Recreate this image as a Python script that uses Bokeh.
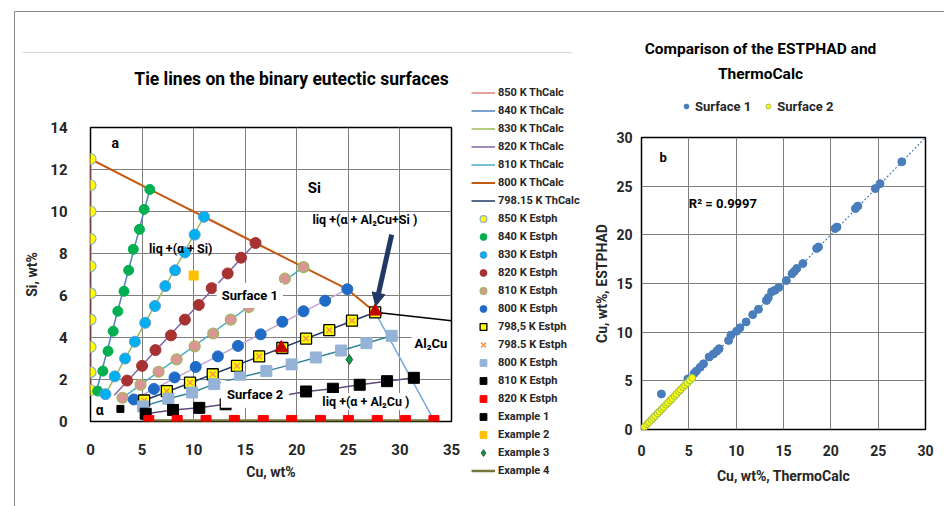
from bokeh.plotting import figure
from bokeh.models import (Range1d, Legend, LegendItem, Label, Arrow, NormalHead,
                          FixedTicker, BoxAnnotation)
from bokeh.embed import file_html
from bokeh.resources import INLINE

FONT = "Roboto"

# ---------------- left chart data (Cu wt%, Si wt%) ----------------
th850_cu = [0, 0]
th850_si = [1.5, 12.5]
th840_cu = [0.5, 5.75]
th840_si = [1.3, 11.05]
th830_cu = [1.45, 11.0]
th830_si = [1.3, 9.75]
th820_cu = [2.3, 16.0]
th820_si = [1.25, 8.5]
th810_cu = [3.1, 20.65]
th810_si = [1.13, 7.35]
th800_cu = [4.1, 24.9]
th800_si = [1.03, 6.3]
th798_cu = [5.2, 27.6]
th798_si = [1.0, 5.2]

valley_si_cu = [0, 5.75, 11.0, 16.0, 20.65, 24.9, 27.6]
valley_si_si = [12.5, 11.05, 9.75, 8.5, 7.35, 6.3, 5.2]
valley_al2cu_cu = [27.6, 33.3]
valley_al2cu_si = [5.2, 0.05]
al2cu_si_cu = [27.6, 35.0]
al2cu_si_si = [5.2, 4.8]

e850_cu = [0, 0, 0, 0, 0, 0, 0, 0, 0, 0]
e850_si = [12.5, 11.25, 10.0, 8.7, 7.4, 6.1, 4.85, 3.55, 2.35, 1.5]
e840_cu = [0.7, 1.2, 1.7, 2.2, 2.65, 3.25, 3.7, 4.15, 4.75, 5.2, 5.75]
e840_si = [1.45, 2.4, 3.35, 4.3, 5.25, 6.2, 7.2, 8.2, 9.15, 10.1, 11.05]
e830_cu = [1.45, 2.35, 3.35, 4.3, 5.3, 6.25, 7.25, 8.2, 9.15, 10.1, 11.0]
e830_si = [1.3, 2.15, 3.0, 3.8, 4.7, 5.5, 6.45, 7.2, 8.05, 8.9, 9.75]
e820_cu = [3.55, 5.0, 6.3, 7.8, 9.15, 10.5, 11.75, 13.3, 14.6, 16.0]
e820_si = [1.95, 2.65, 3.4, 4.1, 4.85, 5.55, 6.35, 7.05, 7.8, 8.5]
e810_cu = [3.1, 4.85, 6.6, 8.35, 10.1, 11.9, 13.6, 15.35, 17.1, 18.85, 20.65]
e810_si = [1.13, 1.75, 2.37, 2.96, 3.58, 4.19, 4.85, 5.45, 6.1, 6.8, 7.35]
e800_cu = [4.2, 6.15, 8.15, 10.2, 12.35, 14.3, 16.5, 18.6, 20.65, 22.75, 24.9]
e800_si = [1.05, 1.55, 2.1, 2.6, 3.1, 3.6, 4.15, 4.75, 5.25, 5.75, 6.3]
e798_cu = [5.2, 7.4, 9.65, 11.85, 14.2, 16.35, 18.6, 20.9, 23.15, 25.35, 27.6]
e798_si = [1.0, 1.45, 1.85, 2.25, 2.65, 3.1, 3.5, 3.95, 4.35, 4.8, 5.2]
s800_cu = [5.1, 7.55, 9.85, 12.0, 14.5, 17.05, 19.5, 21.85, 24.3, 26.75, 29.2]
s800_si = [0.72, 1.08, 1.38, 1.78, 2.1, 2.4, 2.72, 3.05, 3.38, 3.73, 4.08]
s810_cu = [5.35, 8.0, 10.55, 13.1, 15.7, 18.3, 20.9, 23.5, 26.1, 28.75, 31.35]
s810_si = [0.37, 0.55, 0.65, 0.82, 1.0, 1.2, 1.43, 1.56, 1.75, 1.92, 2.08]
s820_cu = [5.65, 8.4, 11.2, 13.95, 16.75, 19.5, 22.3, 25.0, 27.8, 30.55, 33.3]
s820_si = [0.05, 0.05, 0.05, 0.05, 0.05, 0.05, 0.05, 0.05, 0.05, 0.05, 0.05]
tri_cu = [18.5, 27.6]
tri_si = [3.5, 5.25]
ex1_cu, ex1_si = [2.9], [0.6]
ex2_cu, ex2_si = [10.0], [6.95]
ex3_cu, ex3_si = [25.1], [2.95]
ex4_cu, ex4_si = [5.65, 33.3], [0.05, 0.05]

x_ticks_left = [0, 5, 10, 15, 20, 25, 30, 35]
y_ticks_left = [0, 2, 4, 6, 8, 10, 12, 14]

# ---------------- right chart data ----------------
s1_x = [27.5, 25.2, 24.7, 22.85, 22.6, 20.65, 20.45, 18.7, 18.5, 17.05, 16.4, 16.15,
        15.9, 15.3, 14.5, 14.1, 13.75, 13.4, 13.2, 12.35, 11.75, 11.05, 10.4, 10.05,
        9.45, 9.2, 8.2, 7.95, 7.6, 7.15, 6.55, 6.2, 5.8, 5.55, 4.9, 2.1]
s1_y = [27.5, 25.25, 24.75, 22.95, 22.7, 20.8, 20.65, 18.75, 18.6, 17.05, 16.55, 16.25,
        16.0, 15.3, 14.6, 14.3, 14.15, 13.55, 13.25, 12.35, 11.8, 11.05, 10.45, 10.1,
        9.7, 9.15, 8.3, 8.05, 7.75, 7.45, 6.75, 6.4, 6.0, 5.75, 5.2, 3.65]
s2_x = [0.0, 0.15, 0.35, 0.6, 0.8, 1.05, 1.25, 1.45, 1.7, 1.9, 2.15, 2.35, 2.6,
        2.8, 3.05, 3.25, 3.5, 3.7, 3.95, 4.15, 4.4, 4.6, 4.85, 5.1, 5.35]
s2_y = [0.0, 0.1, 0.3, 0.55, 0.75, 1.0, 1.2, 1.4, 1.65, 1.85, 2.1, 2.3, 2.55,
        2.75, 3.0, 3.2, 3.45, 3.65, 3.9, 4.1, 4.35, 4.55, 4.8, 5.05, 5.3]
trend_x = [0.0, 30.0]
trend_y = [0.0, 30.0]
ticks_right = [0, 5, 10, 15, 20, 25, 30]

# ---------------- styles ----------------
ST = {
    "th850": dict(line_color="#d9827f", line_width=1.5),
    "th840": dict(line_color="#4f81bd", line_width=1.5),
    "th830": dict(line_color="#9bbb59", line_width=1.5),
    "th820": dict(line_color="#8064a2", line_width=1.5),
    "th810": dict(line_color="#4bacc6", line_width=1.5),
    "th800": dict(line_color="#c55a11", line_width=2),
    "th798": dict(line_color="#1f3864", line_width=1.5),
    "e850": dict(marker="circle", size=11, fill_color="#ffff00", line_color="#8eaadb",
                 line_width=1.2),
    "e840": dict(marker="circle", size=10, fill_color="#00b050", line_color="#00b050"),
    "e830": dict(marker="circle", size=11, fill_color="#00b0f0", line_color="#5b9bd5"),
    "e820": dict(marker="circle", size=11, fill_color="#a83232", line_color="#a83232"),
    "e810": dict(marker="circle", size=11, fill_color="#d99694", line_color="#9bbb59",
                 line_width=1.2),
    "e800": dict(marker="circle", size=11, fill_color="#1f6bc6", line_color="#1f6bc6"),
    "e798s": dict(marker="square", size=11, fill_color="#ffff00", line_color="#000000",
                  line_width=1.3),
    "e798x": dict(marker="x", size=8, line_color="#f79646", line_width=1.5),
    "s800": dict(marker="square", size=11, fill_color="#95b3d7", line_color="#95b3d7"),
    "s810": dict(marker="square", size=11, fill_color="#000000", line_color="#000000"),
    "s820": dict(marker="square", size=10, fill_color="#ff0000", line_color="#ff0000"),
    "ex1": dict(marker="square", size=7, fill_color="#000000", line_color="#000000"),
    "ex2": dict(marker="square", size=9, fill_color="#ffc000", line_color="#ffc000"),
    "ex3": dict(marker="diamond", size=10, fill_color="#00a050", line_color="#375623"),
    "ex4": dict(line_color="#77773c", line_width=2.5),
    "sf1": dict(marker="circle", size=8, fill_color="#4a7ebb", line_color="#4a7ebb"),
    "sf2": dict(marker="circle", size=7, fill_color="#ffff00", line_color="#9bbb59"),
}


def style_axes(p, xticks, yticks):
    p.xaxis.ticker = FixedTicker(ticks=xticks)
    p.yaxis.ticker = FixedTicker(ticks=yticks)
    p.xgrid.ticker = FixedTicker(ticks=xticks)
    p.ygrid.ticker = FixedTicker(ticks=yticks)
    for ax in (p.xaxis[0], p.yaxis[0]):
        ax.axis_line_color = None
        ax.major_tick_line_color = None
        ax.minor_tick_line_color = None
        ax.major_label_text_font = FONT
        ax.major_label_text_font_style = "bold"
        ax.major_label_text_color = "#262626"
        ax.axis_label_text_font = FONT
        ax.axis_label_text_font_style = "bold"
        ax.axis_label_text_color = "#262626"
    p.grid.grid_line_color = "#7f7f7f"
    p.grid.grid_line_width = 1
    p.outline_line_color = "#000000"
    p.outline_line_width = 1.5
    p.background_fill_color = "white"
    p.border_fill_color = "white"


def lab(p, x, y, text, size="13px", box=False, align="center", pad=5):
    kw = dict(x=x, y=y, text=text, text_font=FONT, text_font_style="bold",
              text_font_size=size, text_color="#000000", text_align=align,
              text_baseline="middle")
    if box:
        kw.update(background_fill_color="white", padding=pad)
    p.add_layout(Label(**kw))


# ================= LEFT CHART =================
pl = figure(width=600, height=506, x_range=Range1d(0, 35), y_range=Range1d(0, 14),
            output_backend="svg", toolbar_location=None,
            min_border_left=90, min_border_right=149, min_border_top=127,
            min_border_bottom=85, x_axis_label="Cu, wt%", y_axis_label="Si, wt%",
            styles={"position": "absolute", "left": "0px", "top": "0px"})
style_axes(pl, x_ticks_left, y_ticks_left)
pl.xaxis.major_label_text_font_size = "15px"
pl.yaxis.major_label_text_font_size = "15px"
pl.xaxis.axis_label_text_font_size = "14px"
pl.yaxis.axis_label_text_font_size = "14px"
pl.xaxis.major_label_standoff = 16
pl.yaxis.major_label_standoff = 17
pl.xaxis.axis_label_standoff = 6
pl.yaxis.axis_label_standoff = 7

pl.line(th850_cu, th850_si, **ST["th850"])
pl.line(th840_cu, th840_si, **ST["th840"])
pl.line(th830_cu, th830_si, **ST["th830"])
pl.line(th820_cu, th820_si, **ST["th820"])
pl.line(th810_cu, th810_si, **ST["th810"])
pl.line(th800_cu, th800_si, line_color="#c3a5d6", line_width=1.5)
pl.line(th798_cu, th798_si, **ST["th798"])
pl.line(s800_cu, s800_si, line_color="#31859c", line_width=1.5)
pl.line(s810_cu, s810_si, line_color="#604a7b", line_width=1.5)
pl.line(ex4_cu, ex4_si, **ST["ex4"])
pl.line(valley_si_cu, valley_si_si, **ST["th800"])
pl.line(valley_al2cu_cu, valley_al2cu_si, line_color="#7aa6dc", line_width=1.5)
pl.line(al2cu_si_cu, al2cu_si_si, line_color="#000000", line_width=1.5)

pl.scatter(e850_cu, e850_si, **ST["e850"])
pl.scatter(e840_cu, e840_si, **ST["e840"])
pl.scatter(e830_cu, e830_si, **ST["e830"])
pl.scatter(e820_cu, e820_si, **ST["e820"])
pl.scatter(e810_cu, e810_si, **ST["e810"])
pl.scatter(e800_cu, e800_si, **ST["e800"])
pl.scatter(e798_cu, e798_si, **ST["e798s"])
pl.scatter(e798_cu, e798_si, **ST["e798x"])
pl.scatter(s800_cu, s800_si, **ST["s800"])
pl.scatter(s810_cu, s810_si, **ST["s810"])
pl.scatter(s820_cu, s820_si, **ST["s820"])
pl.scatter(tri_cu, tri_si, marker="triangle", size=13, fill_color="#c00000",
           line_color="#c00000")
pl.scatter(ex1_cu, ex1_si, **ST["ex1"])
pl.scatter(ex2_cu, ex2_si, **ST["ex2"])
pl.scatter(ex3_cu, ex3_si, **ST["ex3"])

pl.add_layout(Arrow(end=NormalHead(size=13, fill_color="#1f3864", line_color="#1f3864"),
                    x_start=29.2, y_start=8.9, x_end=27.65, y_end=5.5,
                    line_color="#1f3864", line_width=5))

lab(pl, 2.4, 13.25, "a", size="14px")
lab(pl, 21.7, 11.1, "Si", size="15px")
lab(pl, 26.6, 9.6, "liq +(α + Al₂Cu+Si )", size="12.5px")
lab(pl, 8.75, 8.24, "liq +(α + Si)", size="12.5px")
lab(pl, 15.45, 6.0, "Surface 1", box=True)
lab(pl, 15.95, 1.3, "Surface 2", box=True, pad=6)
lab(pl, 33.0, 3.7, "Al₂Cu", box=True, pad=3)
lab(pl, 26.7, 0.95, "liq +(α + Al₂Cu )", size="12.5px", box=True, pad=1)
lab(pl, 0.9, 0.55, "α", size="14px")

# ================= RIGHT CHART =================
pr = figure(width=353, height=506, x_range=Range1d(0, 30), y_range=Range1d(0, 30),
            output_backend="svg", toolbar_location=None,
            min_border_left=50, min_border_right=19, min_border_top=137,
            min_border_bottom=77, x_axis_label="Cu, wt%, ThermoCalc",
            y_axis_label="Cu, wt%, ESTPHAD",
            styles={"position": "absolute", "left": "591px", "top": "0px"})
style_axes(pr, ticks_right, ticks_right)
for ax in (pr.xaxis[0], pr.yaxis[0]):
    ax.major_tick_out = 0
    ax.major_tick_in = 0
    ax.minor_tick_out = 0
    ax.minor_tick_in = 0
pr.xaxis.major_label_text_font_size = "14px"
pr.yaxis.major_label_text_font_size = "14px"
pr.xaxis.axis_label_text_font_size = "14px"
pr.yaxis.axis_label_text_font_size = "14px"
pr.xaxis.major_label_standoff = 15
pr.yaxis.major_label_standoff = 9
pr.xaxis.axis_label_standoff = 9
pr.yaxis.axis_label_standoff = 3

pr.line(trend_x, trend_y, line_color="#4a7ebb", line_width=1.2, line_dash="2 2")
pr.scatter(s1_x, s1_y, **ST["sf1"])
pr.scatter(s2_x, s2_y, **ST["sf2"])
lab(pr, 2.3, 27.9, "b", size="13px")
lab(pr, 5.0, 23.2, "R² = 0.9997", size="13px", align="left")

# ================= OVERLAY: titles and legends (page pixel coordinates) =================
ov = figure(width=944, height=506, x_range=Range1d(0, 944), y_range=Range1d(506, 0),
            output_backend="svg", toolbar_location=None, x_axis_location=None,
            y_axis_location=None, min_border=0,
            styles={"position": "absolute", "left": "0px", "top": "0px"})
ov.grid.visible = False
ov.outline_line_color = None
ov.background_fill_color = None
ov.border_fill_color = None
# legend proxies: the real series on a range that lies outside the overlay's view
ov.extra_x_ranges = {"off": Range1d(1000, 1001)}
ov.extra_y_ranges = {"off": Range1d(1000, 1001)}

# page frame lines of the original figure
ov.add_layout(BoxAnnotation(left=14, right=944, top=10.5, bottom=11.5,
                            fill_color="#8c8c8c", fill_alpha=1, line_color=None))
ov.add_layout(BoxAnnotation(left=13.5, right=14.5, top=11, bottom=506,
                            fill_color="#8c8c8c", fill_alpha=1, line_color=None))
ov.add_layout(BoxAnnotation(left=22, right=572, top=51.5, bottom=52.5,
                            fill_color="#d9d9d9", fill_alpha=1, line_color=None))

lab(ov, 291, 78, "Tie lines on the binary eutectic surfaces", size="17.5px")
lab(ov, 760, 48, "Comparison of the ESTPHAD and", size="15.5px")
lab(ov, 760, 73, "ThermoCalc", size="15.5px")

left_items = [
    ("850 K ThCalc", "line", "th850", th850_cu, th850_si),
    ("840 K ThCalc", "line", "th840", th840_cu, th840_si),
    ("830 K ThCalc", "line", "th830", th830_cu, th830_si),
    ("820 K ThCalc", "line", "th820", th820_cu, th820_si),
    ("810 K ThCalc", "line", "th810", th810_cu, th810_si),
    ("800 K ThCalc", "line", "th800", valley_si_cu, valley_si_si),
    ("798.15 K ThCalc", "line", "th798", th798_cu, th798_si),
    ("850 K Estph", "pt", "e850", e850_cu, e850_si),
    ("840 K Estph", "pt", "e840", e840_cu, e840_si),
    ("830 K Estph", "pt", "e830", e830_cu, e830_si),
    ("820 K Estph", "pt", "e820", e820_cu, e820_si),
    ("810 K Estph", "pt", "e810", e810_cu, e810_si),
    ("800 K Estph", "pt", "e800", e800_cu, e800_si),
    ("798,5 K Estph", "pt", "e798s", e798_cu, e798_si),
    ("798.5 K Estph", "pt", "e798x", e798_cu, e798_si),
    ("800 K Estph", "pt", "s800", s800_cu, s800_si),
    ("810 K Estph", "pt", "s810", s810_cu, s810_si),
    ("820 K Estph", "pt", "s820", s820_cu, s820_si),
    ("Example 1", "pt", "ex1", ex1_cu, ex1_si),
    ("Example 2", "pt", "ex2", ex2_cu, ex2_si),
    ("Example 3", "pt", "ex3", ex3_cu, ex3_si),
    ("Example 4", "line", "ex4", ex4_cu, ex4_si),
]
litems = []
for text, kind, key, xs, ys in left_items:
    if kind == "line":
        r = ov.line(xs, ys, x_range_name="off", y_range_name="off", **ST[key])
    else:
        r = ov.scatter(xs, ys, x_range_name="off", y_range_name="off", **ST[key])
    litems.append(LegendItem(label=text, renderers=[r]))

leg = Legend(items=litems, location=(471, 27), glyph_width=24, glyph_height=17,
             label_height=17, spacing=1, padding=2, margin=0, label_standoff=3,
             label_text_font=FONT, label_text_font_style="bold",
             label_text_font_size="11px", label_text_color="#262626",
             border_line_color=None, background_fill_alpha=0)
ov.add_layout(leg)

r1 = ov.scatter(s1_x, s1_y, x_range_name="off", y_range_name="off", **ST["sf1"])
r2 = ov.scatter(s2_x, s2_y, x_range_name="off", y_range_name="off", **ST["sf2"])
leg2 = Legend(items=[LegendItem(label="Surface 1", renderers=[r1]),
                     LegendItem(label="Surface 2", renderers=[r2])],
              orientation="horizontal", location=(680, 392), glyph_width=12,
              glyph_height=16, label_height=16, spacing=11, padding=2, margin=0,
              label_standoff=3, label_text_font=FONT, label_text_font_style="bold",
              label_text_font_size="13px", label_text_color="#262626",
              border_line_color=None, background_fill_alpha=0)
ov.add_layout(leg2)

open("out.html", "w").write(file_html([pl, pr, ov], INLINE))
